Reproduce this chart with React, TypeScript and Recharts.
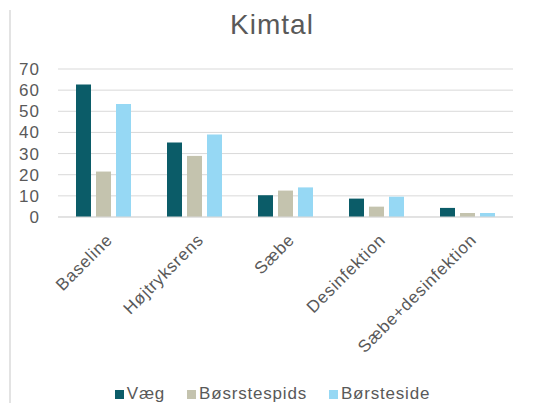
import React from 'react';
import { BarChart, Bar, XAxis, YAxis, CartesianGrid, Legend } from 'recharts';

const categories = ['Baseline', 'Højtryksrens', 'Sæbe', 'Desinfektion', 'Sæbe+desinfektion'];
const vaeg = [62.7, 35.2, 10.3, 8.7, 4.3];
const boesrstespids = [21.5, 28.9, 12.5, 4.9, 1.9];
const boersteside = [53.4, 39, 14, 9.6, 1.9];
const yTicks = [0, 10, 20, 30, 40, 50, 60, 70];

const seriesKeys = ['Væg', 'Bøsrstespids', 'Børsteside'];
const seriesColors = ['#0B5C68', '#C4C3AE', '#96D8F4'];

const data = categories.map((name, i) => ({
  name,
  'Væg': vaeg[i],
  'Bøsrstespids': boesrstespids[i],
  'Børsteside': boersteside[i],
}));

const FONT = '"Liberation Sans", Arial, sans-serif';
const GREY = '#595959';

const AngledTick = (props: any) => {
  const { x, y, payload } = props;
  return (
    <g transform={`translate(${x + 10},${y + 16})`}>
      <text
        textAnchor="end"
        transform="rotate(-45)"
        fill={GREY}
        fontSize={17}
        letterSpacing={0.8}
        fontFamily={FONT}
      >
        {payload.value}
      </text>
    </g>
  );
};

const LegendContent = () => (
  <div style={{ display: 'flex', justifyContent: 'center', alignItems: 'center', fontFamily: FONT, fontSize: 17, letterSpacing: 0.8, color: GREY, paddingLeft: 22, paddingTop: 9 }}>
    {seriesKeys.map((k, i) => (
      <div key={k} style={{ display: 'flex', alignItems: 'center', marginRight: i < seriesKeys.length - 1 ? 22 : 0 }}>
        <span style={{ display: 'inline-block', width: 9, height: 9, background: seriesColors[i], marginRight: 3 }} />
        <span>{k}</span>
      </div>
    ))}
  </div>
);

export default function App() {
  return (
    <div style={{ position: 'absolute', left: 0, top: 0, width: 544, height: 403, background: '#fff' }}>
      <div style={{ position: 'absolute', left: 9, top: 10, width: 2, height: 393, background: '#e3e3e3' }} />
      <div
        style={{
          position: 'absolute',
          left: 0,
          top: 9,
          width: 544,
          textAlign: 'center',
          fontFamily: FONT,
          fontSize: 28,
          letterSpacing: 1,
          color: GREY,
        }}
      >
        Kimtal
      </div>
      <BarChart
        width={544}
        height={403}
        data={data}
        margin={{ top: 69, right: 31, left: 10, bottom: 0 }}
        barGap={5}
        barCategoryGap={18}
      >
        <CartesianGrid vertical={false} stroke="#d9d9d9" />
        <XAxis
          dataKey="name"
          interval={0}
          tick={<AngledTick />}
          tickLine={false}
          axisLine={{ stroke: '#d9d9d9' }}
          height={158}
        />
        <YAxis
          width={48}
          domain={[0, 70]}
          ticks={yTicks}
          interval={0}
          axisLine={false}
          tickLine={false}
          tick={{ fill: GREY, fontSize: 17, fontFamily: FONT, letterSpacing: 1 }}
          tickMargin={12}
        />
        <Legend verticalAlign="bottom" height={28} content={<LegendContent />} />
        {seriesKeys.map((k, i) => (
          <Bar key={k} dataKey={k} fill={seriesColors[i]} isAnimationActive={false} />
        ))}
      </BarChart>
    </div>
  );
}
